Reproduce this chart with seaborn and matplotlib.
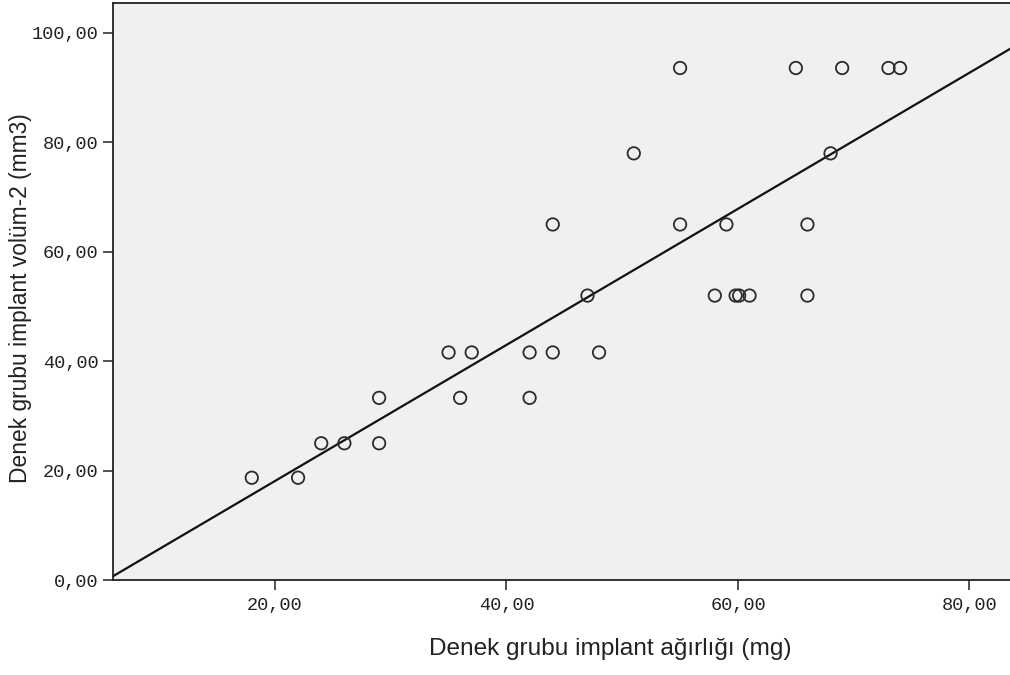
import matplotlib
matplotlib.use('Agg')
import matplotlib.pyplot as plt
from matplotlib.ticker import FuncFormatter
import seaborn as sns
import pandas as pd

# implant weight (mg) and implant volume (mm3)
agirlik = [18, 22, 24, 26, 29, 29, 36, 42, 35, 37, 42, 44, 48,
           47, 58, 59.8, 60.1, 61, 66, 44, 55, 59, 66, 51, 68,
           55, 65, 69, 73, 74]
volum = [18.7, 18.7, 25.0, 25.0, 25.0, 33.3, 33.3, 33.3, 41.6, 41.6, 41.6, 41.6, 41.6,
         52.0, 52.0, 52.0, 52.0, 52.0, 52.0, 65.0, 65.0, 65.0, 65.0, 78.0, 78.0,
         93.6, 93.6, 93.6, 93.6, 93.6]

x_ticks = [20, 40, 60, 80]
y_ticks = [0, 20, 40, 60, 80, 100]

df = pd.DataFrame({'agirlik': agirlik, 'volum': volum})

sns.set_style('white')
plt.rcParams['font.family'] = ['Liberation Sans', 'DejaVu Sans']

fig = plt.figure(figsize=(10.1, 6.75), dpi=100)
ax = fig.add_axes([0.1122, 0.1407, 0.8878, 0.855])
ax.set_facecolor('#f0f0f0')

ax.set_xlim(6.04, 83.5)
ax.set_ylim(0, 105.5)

sns.scatterplot(data=df, x='agirlik', y='volum', ax=ax, marker='o', s=80,
                facecolors='none', edgecolor='#2b2b2b', linewidth=1.3, zorder=3)
sns.regplot(data=df, x='agirlik', y='volum', ax=ax, scatter=False, ci=None,
            truncate=False, line_kws={'color': '#111111', 'linewidth': 1.6})

ax.set_xlim(6.04, 83.5)
ax.set_ylim(0, 105.5)

fmt = FuncFormatter(lambda v, _: f'{v:.2f}'.replace('.', ','))
ax.set_xticks(x_ticks)
ax.set_yticks(y_ticks)
ax.xaxis.set_major_formatter(fmt)
ax.yaxis.set_major_formatter(fmt)

for lab in ax.get_xticklabels() + ax.get_yticklabels():
    lab.set_family(['Liberation Mono', 'DejaVu Sans Mono'])
    lab.set_fontsize(13.4)
    lab.set_color('#222222')

ax.tick_params(axis='both', direction='out', length=7.5, width=1.2, color='#333333')
ax.tick_params(axis='x', pad=5)
ax.tick_params(axis='y', pad=3)
ax.xaxis.set_ticks_position('bottom')
ax.yaxis.set_ticks_position('left')

for side in ['left', 'bottom', 'top']:
    ax.spines[side].set_color('#222222')
    ax.spines[side].set_linewidth(1.3)
ax.spines['right'].set_visible(False)

ax.set_xlabel('Denek grubu implant ağırlığı (mg)', fontsize=17.6, color='#222222', labelpad=17)
ax.set_ylabel('Denek grubu implant volüm-2 (mm3)', fontsize=16.4, color='#222222', labelpad=0)
ax.xaxis.label.set_x(0.554)
ax.yaxis.label.set_y(0.489)

fig.savefig('out.png', dpi=100)
